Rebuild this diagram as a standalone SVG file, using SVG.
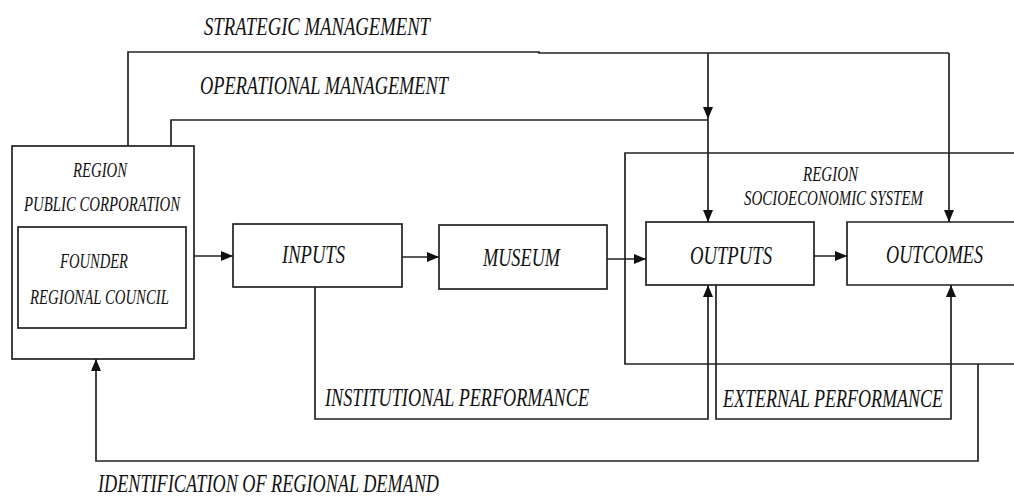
<svg xmlns="http://www.w3.org/2000/svg" width="1014" height="497" viewBox="0 0 1014 497">
<style>
.box{fill:none;stroke:#222;stroke-width:1.7}
.ln{fill:none;stroke:#222;stroke-width:1.7}
text{font-family:"Liberation Serif","DejaVu Serif",serif;font-style:italic;fill:#111}
.big{font-size:26px}
.med{font-size:25px}
.sm{font-size:21px}
</style>
<defs>
<marker id="ah" viewBox="0 0 12 10" refX="12" refY="5" markerWidth="12" markerHeight="10" markerUnits="userSpaceOnUse" orient="auto">
<path d="M0,0 L12,5 L0,10 Z" fill="#111"/>
</marker>
</defs>
<rect width="1014" height="497" fill="#fff"/>

<g id="labels">
<text class="big" x="204" y="35" textLength="226" lengthAdjust="spacingAndGlyphs">STRATEGIC MANAGEMENT</text>
<text class="med" x="200" y="94" textLength="248" lengthAdjust="spacingAndGlyphs">OPERATIONAL MANAGEMENT</text>
<text class="med" x="325" y="406" textLength="264" lengthAdjust="spacingAndGlyphs">INSTITUTIONAL PERFORMANCE</text>
<text class="med" x="723" y="407" textLength="220" lengthAdjust="spacingAndGlyphs">EXTERNAL PERFORMANCE</text>
<text class="med" x="98" y="492" textLength="341" lengthAdjust="spacingAndGlyphs">IDENTIFICATION OF REGIONAL DEMAND</text>
</g>

<g id="region-public">
<rect class="box" x="12" y="146" width="182" height="213"/>
<text class="sm" x="73" y="177" textLength="54" lengthAdjust="spacingAndGlyphs">REGION</text>
<text class="sm" x="24" y="211" textLength="156" lengthAdjust="spacingAndGlyphs">PUBLIC CORPORATION</text>
</g>

<g id="founder">
<rect class="box" x="18" y="227" width="168" height="101"/>
<text class="sm" x="60" y="268" textLength="68" lengthAdjust="spacingAndGlyphs">FOUNDER</text>
<text class="sm" x="30" y="304" textLength="139" lengthAdjust="spacingAndGlyphs">REGIONAL COUNCIL</text>
</g>

<g id="region-system">
<path class="box" d="M1016,153 H625 V364 H1016"/>
<text class="sm" x="803" y="181" textLength="55" lengthAdjust="spacingAndGlyphs">REGION</text>
<text class="sm" x="744" y="205" textLength="179" lengthAdjust="spacingAndGlyphs">SOCIOECONOMIC SYSTEM</text>
</g>

<g id="inputs">
<rect class="box" x="233" y="224" width="169" height="63"/>
<text class="big" x="282" y="263" textLength="63" lengthAdjust="spacingAndGlyphs">INPUTS</text>
</g>

<g id="museum">
<rect class="box" x="439" y="225" width="168" height="64"/>
<text class="big" x="483" y="266" textLength="77" lengthAdjust="spacingAndGlyphs">MUSEUM</text>
</g>

<g id="outputs">
<rect class="box" x="646" y="222" width="168" height="63"/>
<text class="big" x="690" y="264" textLength="82" lengthAdjust="spacingAndGlyphs">OUTPUTS</text>
</g>

<g id="outcomes">
<path class="box" d="M1016,222 H847 V285 H1016"/>
<text class="big" x="886" y="263" textLength="97" lengthAdjust="spacingAndGlyphs">OUTCOMES</text>
</g>

<g id="connectors">
<path class="ln" d="M194,256 H233" marker-end="url(#ah)"/>
<path class="ln" d="M402,257 H439" marker-end="url(#ah)"/>
<path class="ln" d="M607,259 H646" marker-end="url(#ah)"/>
<path class="ln" d="M814,256 H847" marker-end="url(#ah)"/>
<path class="ln" d="M128,146 V52 H539 V53 H949"/>
<path class="ln" d="M708,53 V119" marker-end="url(#ah)"/>
<path class="ln" d="M708,119 V222" marker-end="url(#ah)"/>
<path class="ln" d="M949,53 V222" marker-end="url(#ah)"/>
<path class="ln" d="M171,146 V120 H708"/>
<path class="ln" d="M315,287 V419 H708 V285" marker-end="url(#ah)"/>
<path class="ln" d="M716,285 V419 H951 V285" marker-end="url(#ah)"/>
<path class="ln" d="M978,364 V461 H96 V359" marker-end="url(#ah)"/>
</g>
</svg>
